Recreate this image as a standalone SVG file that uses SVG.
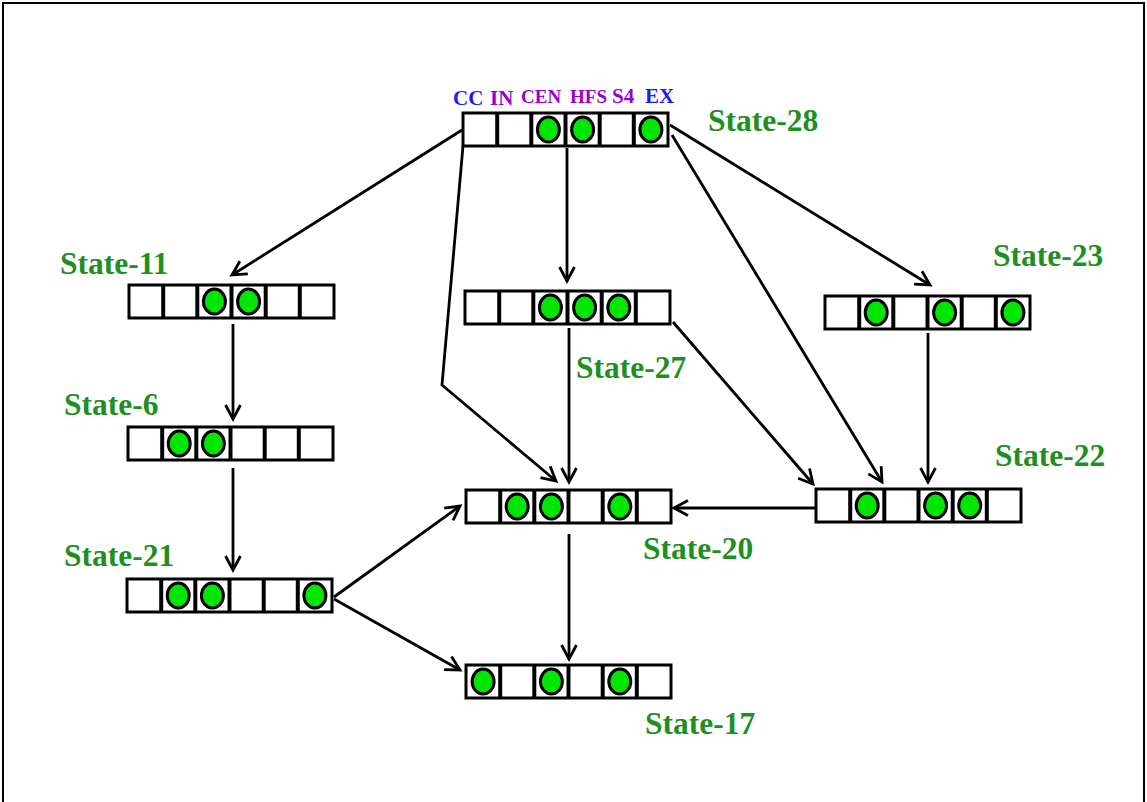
<svg xmlns="http://www.w3.org/2000/svg" xmlns:xlink="http://www.w3.org/1999/xlink" width="1147" height="802" viewBox="0 0 1147 802">
  <style>
    .frame { fill: none; stroke: #000; stroke-width: 2; }
    .row { fill: #fff; stroke: #000; stroke-width: 3; }
    .div { stroke: #000; stroke-width: 4; }
    .dot { fill: #00e600; stroke: #000; stroke-width: 3; }
    .edge { fill: none; stroke: #000; stroke-width: 2.8; marker-end: url(#arrow); }
    .name { font-family: "Liberation Serif", "Times New Roman", serif; font-weight: bold; font-size: 31.5px; fill: #1f8f1f; }
    .hdr { font-family: "Liberation Serif", "Times New Roman", serif; font-weight: bold; }
    .blue { fill: #1a1aff; font-size: 21px; }
    .purple { fill: #9b00cc; font-size: 21px; }
    .small { font-size: 19px; }
  </style>
  <defs>
    <marker id="arrow" markerUnits="userSpaceOnUse" markerWidth="22" markerHeight="22" refX="15" refY="9" orient="auto">
      <path d="M1,1.5 L15,9 L1,16.5" fill="none" stroke="#000" stroke-width="2.8"/>
    </marker>
    <!-- six-cell register -->
    <g id="cells">
      <rect class="row" x="0" y="0" width="205" height="33"/>
      <line class="div" x1="34.2" y1="0" x2="34.2" y2="33"/>
      <line class="div" x1="68.3" y1="0" x2="68.3" y2="33"/>
      <line class="div" x1="102.5" y1="0" x2="102.5" y2="33"/>
      <line class="div" x1="136.7" y1="0" x2="136.7" y2="33"/>
      <line class="div" x1="170.8" y1="0" x2="170.8" y2="33"/>
    </g>
    <ellipse id="dot" class="dot" cx="0" cy="16.5" rx="11" ry="12.5"/>
  </defs>

  <rect class="frame" x="3" y="3" width="1141" height="810"/>

  <!-- connectors -->
  <g id="connectors">
    <line class="edge" x1="462" y1="130" x2="232" y2="275"/>
    <polyline class="edge" points="463,146 442,385 556,481"/>
    <line class="edge" x1="567" y1="148" x2="567" y2="281"/>
    <line class="edge" x1="670" y1="125" x2="930" y2="285"/>
    <line class="edge" x1="672" y1="135" x2="882" y2="482"/>
    <line class="edge" x1="569" y1="328" x2="569" y2="482"/>
    <line class="edge" x1="673" y1="322" x2="813" y2="484"/>
    <line class="edge" x1="928" y1="333" x2="928" y2="482"/>
    <line class="edge" x1="816" y1="508" x2="674" y2="508"/>
    <line class="edge" x1="233" y1="324" x2="233" y2="419"/>
    <line class="edge" x1="233" y1="468" x2="233" y2="570"/>
    <line class="edge" x1="334" y1="597" x2="460" y2="506"/>
    <line class="edge" x1="334" y1="599" x2="460" y2="670"/>
    <line class="edge" x1="569" y1="534" x2="569" y2="659"/>
  </g>

  <g id="state-28">
    <use xlink:href="#cells" x="463" y="113"/>
    <use xlink:href="#dot" x="548.4" y="113"/>
    <use xlink:href="#dot" x="582.6" y="113"/>
    <use xlink:href="#dot" x="650.9" y="113"/>
    <text class="hdr blue" x="453" y="105">CC</text>
    <text class="hdr purple" x="490" y="105">IN</text>
    <text class="hdr purple small" x="521" y="103">CEN</text>
    <text class="hdr purple small" x="570" y="103">HFS</text>
    <text class="hdr purple" x="612" y="103">S4</text>
    <text class="hdr blue" x="645" y="103">EX</text>
    <text class="name" x="708" y="131">State-28</text>
  </g>

  <g id="state-11">
    <use xlink:href="#cells" x="129" y="285"/>
    <use xlink:href="#dot" x="214.4" y="285"/>
    <use xlink:href="#dot" x="248.6" y="285"/>
    <text class="name" x="60" y="274">State-11</text>
  </g>

  <g id="state-6">
    <use xlink:href="#cells" x="128" y="427"/>
    <use xlink:href="#dot" x="179.2" y="427"/>
    <use xlink:href="#dot" x="213.4" y="427"/>
    <text class="name" x="64" y="415">State-6</text>
  </g>

  <g id="state-21">
    <use xlink:href="#cells" x="127" y="579"/>
    <use xlink:href="#dot" x="178.2" y="579"/>
    <use xlink:href="#dot" x="212.4" y="579"/>
    <use xlink:href="#dot" x="314.9" y="579"/>
    <text class="name" x="64" y="566">State-21</text>
  </g>

  <g id="state-27">
    <use xlink:href="#cells" x="465" y="291"/>
    <use xlink:href="#dot" x="550.4" y="291"/>
    <use xlink:href="#dot" x="584.6" y="291"/>
    <use xlink:href="#dot" x="618.8" y="291"/>
    <text class="name" x="576" y="378">State-27</text>
  </g>

  <g id="state-20">
    <use xlink:href="#cells" x="466" y="490"/>
    <use xlink:href="#dot" x="517.2" y="490"/>
    <use xlink:href="#dot" x="551.4" y="490"/>
    <use xlink:href="#dot" x="619.8" y="490"/>
    <text class="name" x="643" y="559">State-20</text>
  </g>

  <g id="state-17">
    <use xlink:href="#cells" x="466" y="665"/>
    <use xlink:href="#dot" x="483.1" y="665"/>
    <use xlink:href="#dot" x="551.4" y="665"/>
    <use xlink:href="#dot" x="619.8" y="665"/>
    <text class="name" x="645" y="734">State-17</text>
  </g>

  <g id="state-23">
    <use xlink:href="#cells" x="825" y="296"/>
    <use xlink:href="#dot" x="876.2" y="296"/>
    <use xlink:href="#dot" x="944.6" y="296"/>
    <use xlink:href="#dot" x="1012.9" y="296"/>
    <text class="name" x="993" y="266">State-23</text>
  </g>

  <g id="state-22">
    <use xlink:href="#cells" x="816" y="489"/>
    <use xlink:href="#dot" x="867.2" y="489"/>
    <use xlink:href="#dot" x="935.6" y="489"/>
    <use xlink:href="#dot" x="969.7" y="489"/>
    <text class="name" x="995" y="466">State-22</text>
  </g>
</svg>
